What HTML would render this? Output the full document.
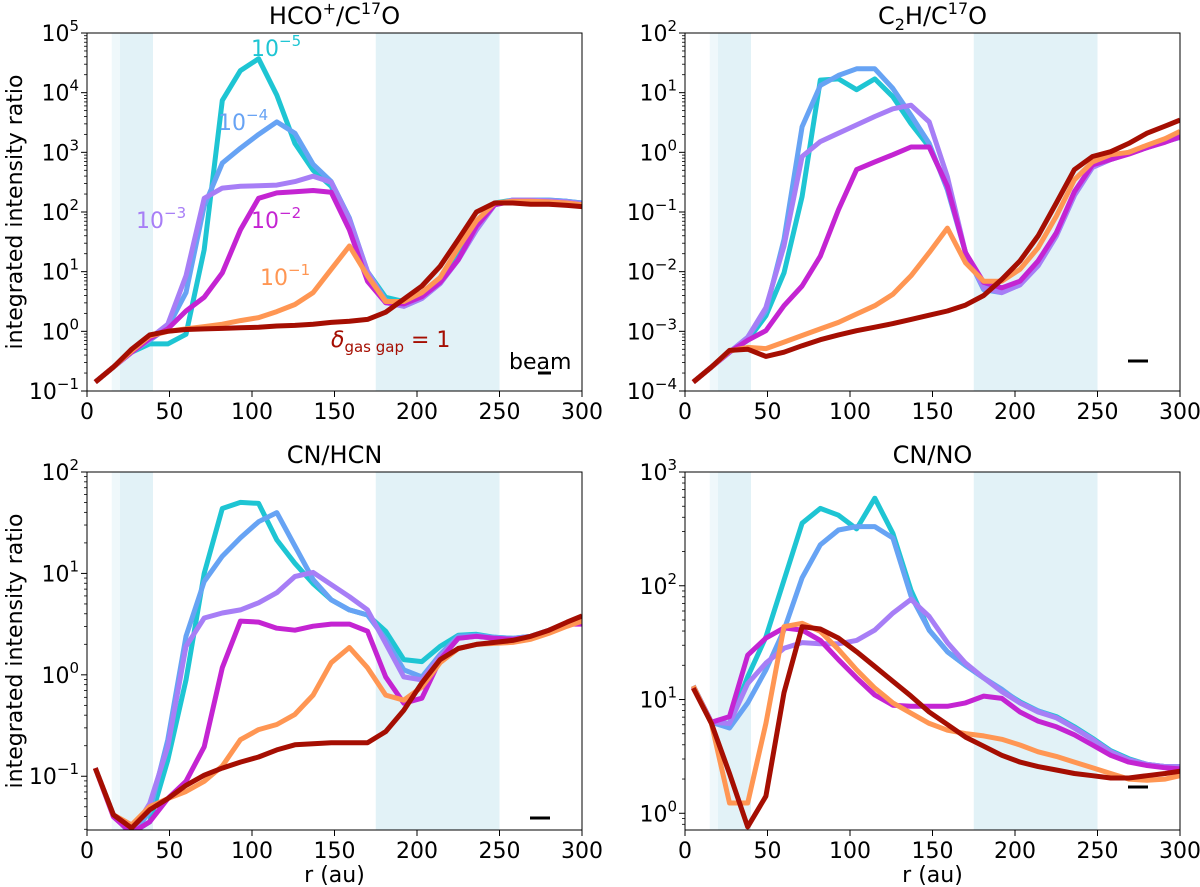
<!DOCTYPE html>
<html><head><meta charset="utf-8"><style>
html,body{margin:0;padding:0;background:#fff;}
svg{display:block;font-family:"DejaVu Sans","Liberation Sans",sans-serif;}
</style></head><body>
<svg id="fig" width="1200" height="887" viewBox="0 0 1200 887" xmlns="http://www.w3.org/2000/svg"></svg>
<script>
const radii = [5,16,27,38,49,60,71,82,93,104,115,126,137,148,159,170,181,192,203,214,225,236,247,258,269,280,291,300];
const seriesNames = ["delta-1e-5","delta-1e-4","delta-1e-3","delta-1e-2","delta-1e-1","delta-1"];
const seriesColors = ["#1ec5d3","#67a3f4","#a77ef6","#c424d2","#ff9653","#a50e02"];
const xTicks = [0,50,100,150,200,250,300];

// log10 values
const hco_cyan = [-0.85,-0.6,-0.35,-0.21,-0.21,-0.05,1.37,3.87,4.37,4.57,3.96,3.15,2.7,2.43,1.82,1.0,0.57,0.5,0.65,0.87,1.3,1.75,2.15,2.2,2.2,2.2,2.18,2.15];
const hco_blue = [-0.85,-0.6,-0.35,-0.15,0.07,0.65,2.1,2.82,3.07,3.3,3.51,3.32,2.8,2.51,1.9,1.0,0.52,0.42,0.55,0.8,1.2,1.7,2.12,2.2,2.2,2.2,2.18,2.15];
const hco_purple = [-0.85,-0.6,-0.35,-0.12,0.12,0.93,2.23,2.4,2.43,2.44,2.45,2.51,2.6,2.5,1.87,1.0,0.48,0.42,0.55,0.8,1.2,1.7,2.12,2.2,2.2,2.19,2.17,2.14];
const hco_magenta = [-0.85,-0.6,-0.35,-0.12,0.04,0.34,0.57,0.98,1.7,2.23,2.32,2.34,2.36,2.33,1.7,0.84,0.48,0.46,0.58,0.82,1.2,1.76,2.12,2.18,2.18,2.17,2.15,2.12];
const hco_orange = [-0.85,-0.6,-0.33,-0.08,0.0,0.04,0.08,0.12,0.18,0.23,0.33,0.45,0.65,1.04,1.43,0.93,0.5,0.5,0.65,0.9,1.4,1.85,2.15,2.18,2.18,2.17,2.15,2.12];
const hco_darkred = [-0.85,-0.6,-0.3,-0.06,0.0,0.03,0.04,0.05,0.06,0.07,0.09,0.1,0.12,0.15,0.17,0.2,0.32,0.54,0.76,1.09,1.54,2.0,2.15,2.15,2.13,2.13,2.11,2.09];

const c2h_cyan = [-3.85,-3.6,-3.35,-3.15,-2.74,-2.02,-0.74,1.21,1.23,1.05,1.23,0.93,0.48,0.09,-0.57,-1.68,-2.27,-2.3,-2.2,-1.85,-1.35,-0.7,-0.23,-0.1,0,0.1,0.2,0.28];
const c2h_blue = [-3.85,-3.6,-3.35,-3.1,-2.66,-1.46,0.43,1.12,1.29,1.4,1.4,1.07,0.62,0.15,-0.63,-1.68,-2.3,-2.35,-2.22,-1.9,-1.4,-0.72,-0.25,-0.12,-0.02,0.08,0.18,0.25];
const c2h_purple = [-3.85,-3.6,-3.35,-3.1,-2.6,-1.57,-0.07,0.18,0.32,0.46,0.6,0.73,0.79,0.51,-0.41,-1.68,-2.27,-2.35,-2.22,-1.9,-1.4,-0.72,-0.25,-0.12,-0.02,0.08,0.18,0.25];
const c2h_magenta = [-3.85,-3.6,-3.35,-3.15,-2.99,-2.57,-2.24,-1.74,-0.96,-0.29,-0.16,-0.04,0.09,0.09,-0.57,-1.68,-2.18,-2.27,-2.16,-1.82,-1.35,-0.66,-0.21,-0.12,-0.03,0.08,0.17,0.26];
const c2h_orange = [-3.85,-3.6,-3.33,-3.27,-3.29,-3.18,-3.07,-2.96,-2.85,-2.71,-2.57,-2.38,-2.07,-1.68,-1.27,-1.85,-2.16,-2.16,-1.96,-1.6,-1.07,-0.46,-0.16,-0.04,0.0,0.12,0.23,0.35];
const c2h_darkred = [-3.85,-3.6,-3.32,-3.3,-3.42,-3.35,-3.24,-3.14,-3.06,-2.99,-2.93,-2.87,-2.8,-2.73,-2.66,-2.56,-2.4,-2.13,-1.82,-1.4,-0.85,-0.29,-0.07,0.01,0.15,0.32,0.44,0.54];

const cnhcn_cyan = [-0.92,-1.38,-1.56,-1.45,-0.84,-0.05,1.0,1.64,1.7,1.69,1.33,1.1,0.9,0.74,0.64,0.59,0.43,0.15,0.13,0.28,0.39,0.4,0.37,0.36,0.38,0.44,0.5,0.55];
const cnhcn_blue = [-0.92,-1.38,-1.58,-1.35,-0.64,0.38,0.92,1.17,1.35,1.51,1.6,1.27,0.94,0.74,0.64,0.59,0.35,0.05,-0.02,0.2,0.38,0.39,0.37,0.36,0.38,0.44,0.5,0.53];
const cnhcn_purple = [-0.92,-1.38,-1.56,-1.27,-0.71,0.28,0.56,0.61,0.64,0.71,0.81,0.97,1.01,0.89,0.77,0.64,0.31,-0.02,-0.05,0.18,0.36,0.38,0.36,0.35,0.38,0.44,0.5,0.52];
const cnhcn_magenta = [-0.92,-1.4,-1.56,-1.45,-1.22,-1.05,-0.71,0.07,0.53,0.52,0.46,0.44,0.48,0.5,0.5,0.43,-0.02,-0.28,-0.23,0.15,0.36,0.38,0.36,0.35,0.37,0.43,0.5,0.5];
const cnhcn_orange = [-0.92,-1.38,-1.48,-1.3,-1.22,-1.15,-1.05,-0.9,-0.64,-0.54,-0.49,-0.39,-0.2,0.12,0.27,0.07,-0.2,-0.25,-0.12,0.12,0.26,0.3,0.31,0.32,0.35,0.41,0.48,0.53];
const cnhcn_darkred = [-0.92,-1.38,-1.51,-1.33,-1.22,-1.09,-0.99,-0.92,-0.86,-0.81,-0.74,-0.69,-0.68,-0.67,-0.67,-0.67,-0.56,-0.35,-0.08,0.15,0.26,0.3,0.32,0.34,0.38,0.44,0.52,0.58];

const cnno_cyan = [1.12,0.8,0.79,1.2,1.55,2.05,2.55,2.68,2.62,2.5,2.77,2.46,1.96,1.61,1.42,1.3,1.19,1.08,0.98,0.9,0.85,0.76,0.66,0.55,0.48,0.43,0.41,0.41];
const cnno_blue = [1.12,0.8,0.75,0.97,1.26,1.61,2.07,2.36,2.49,2.52,2.52,2.42,1.91,1.61,1.42,1.3,1.19,1.09,0.97,0.9,0.84,0.75,0.65,0.54,0.47,0.43,0.41,0.41];
const cnno_purple = [1.12,0.8,0.79,1.14,1.32,1.45,1.5,1.49,1.49,1.52,1.61,1.76,1.88,1.73,1.5,1.32,1.19,1.07,0.97,0.89,0.84,0.75,0.65,0.54,0.47,0.43,0.41,0.41];
const cnno_magenta = [1.11,0.8,0.85,1.39,1.54,1.63,1.61,1.52,1.35,1.19,1.04,0.95,0.94,0.94,0.94,0.97,1.03,1.01,0.89,0.81,0.76,0.69,0.6,0.51,0.45,0.42,0.4,0.39];
const cnno_orange = [1.12,0.79,0.09,0.09,0.79,1.64,1.67,1.6,1.44,1.26,1.1,0.97,0.88,0.79,0.73,0.7,0.68,0.65,0.6,0.54,0.5,0.45,0.4,0.35,0.3,0.29,0.3,0.33];
const cnno_darkred = [1.1,0.79,0.35,-0.12,0.15,1.06,1.64,1.62,1.54,1.42,1.29,1.16,1.03,0.89,0.78,0.67,0.59,0.51,0.45,0.41,0.38,0.35,0.33,0.31,0.31,0.33,0.35,0.37];

const NS = "http://www.w3.org/2000/svg";
const svg = document.getElementById("fig");
function mk(tag, attrs, parent) {
  const e = document.createElementNS(NS, tag);
  for (const k in attrs) e.setAttribute(k, attrs[k]);
  (parent || svg).appendChild(e);
  return e;
}
function span(parent, txt, attrs) {
  const s = document.createElementNS(NS, "tspan");
  for (const k in (attrs || {})) s.setAttribute(k, attrs[k]);
  s.textContent = txt;
  parent.appendChild(s);
  return s;
}
function powLabel(parent, x, y, exp) {
  const t = mk("text", {x: x, y: y, "text-anchor": "end", "font-size": "22", fill: "#000"}, parent);
  
  
  span(t, "10");
  span(t, exp < 0 ? "\u2212" + (-exp) : String(exp), {dy: "-10", "font-size": "15"});
  return t;
}

const panels = [
  {id:"hco-c17o", title:[["HCO",0],["+",1],["/C",0],["17",1],["O",0]], L:87, R:582, T:33, B:391, ymin:-1, ymax:5, data:[hco_cyan,hco_blue,hco_purple,hco_magenta,hco_orange,hco_darkred], ylab:true, xlab:false, beam:[538,551,373]},
  {id:"c2h-c17o", title:[["C",0],["2",-1],["H/C",0],["17",1],["O",0]], L:685, R:1180, T:33, B:391, ymin:-4, ymax:2, data:[c2h_cyan,c2h_blue,c2h_purple,c2h_magenta,c2h_orange,c2h_darkred], ylab:false, xlab:false, beam:[1128,1148,361]},
  {id:"cn-hcn", title:[["CN/HCN",0]], L:87, R:582, T:472, B:830, ymin:-1.53, ymax:2, data:[cnhcn_cyan,cnhcn_blue,cnhcn_purple,cnhcn_magenta,cnhcn_orange,cnhcn_darkred], ylab:true, xlab:true, beam:[530,550,818]},
  {id:"cn-no", title:[["CN/NO",0]], L:685, R:1180, T:472, B:830, ymin:-0.147, ymax:3, data:[cnno_cyan,cnno_blue,cnno_purple,cnno_magenta,cnno_orange,cnno_darkred], ylab:false, xlab:true, beam:[1128,1148,787]}
];

panels.forEach(p => {
  const g = mk("g", {});
  
  
  const xs = v => p.L + (v - 0) / 300 * (p.R - p.L);
  const ys = v => p.B - (v - p.ymin) / (p.ymax - p.ymin) * (p.B - p.T);
  const clipId = "clip-" + p.id;
  const cp = mk("clipPath", {id: clipId}, g);
  mk("rect", {x: p.L, y: p.T, width: p.R - p.L, height: p.B - p.T}, cp);

  const b0 = mk("rect", {x: xs(15), y: p.T, width: xs(20) - xs(15), height: p.B - p.T, fill: "#eff8fb"}, g);
  
  
  const b1 = mk("rect", {x: xs(20), y: p.T, width: xs(40) - xs(20), height: p.B - p.T, fill: "#e2f2f7"}, g);
  
  
  const b2 = mk("rect", {x: xs(175), y: p.T, width: xs(250) - xs(175), height: p.B - p.T, fill: "#e2f2f7"}, g);
  
  

  const lg = mk("g", {"clip-path": "url(#" + clipId + ")"}, g);
  p.data.forEach((arr, si) => {
    const pts = radii.map((r, i) => xs(r).toFixed(1) + "," + ys(arr[i]).toFixed(1)).join(" ");
    const pl = mk("polyline", {points: pts, fill: "none", stroke: seriesColors[si], "stroke-width": "5", "stroke-linejoin": "round"}, lg);
    
    
  });

  const fr = mk("rect", {x: p.L, y: p.T, width: p.R - p.L, height: p.B - p.T, fill: "none", stroke: "#000", "stroke-width": "1"}, g);
  
  

  for (let d = Math.floor(p.ymin); d <= Math.ceil(p.ymax); d++) {
    if (d >= p.ymin - 1e-9 && d <= p.ymax + 1e-9) {
      const y = ys(d);
      mk("line", {x1: p.L - 6, x2: p.L, y1: y, y2: y, stroke: "#000", "stroke-width": "1"}, g);
      powLabel(g, p.L - 8, y + 8, d);
    }
    for (let m = 2; m <= 9; m++) {
      const v = d + Math.log10(m);
      if (v > p.ymin && v < p.ymax) {
        const y = ys(v);
        mk("line", {x1: p.L - 3, x2: p.L, y1: y, y2: y, stroke: "#000", "stroke-width": "0.8"}, g);
      }
    }
  }
  xTicks.forEach(t => {
    const x = xs(t);
    mk("line", {x1: x, x2: x, y1: p.B, y2: p.B + 6, stroke: "#000", "stroke-width": "1"}, g);
    const tl = mk("text", {x: x, y: p.B + 28, "text-anchor": "middle", "font-size": "22"}, g);
    
    
    tl.textContent = t;
  });
  const ti = mk("text", {x: (p.L + p.R) / 2, y: p.T - 9, "text-anchor": "middle", "font-size": "24"}, g);
  
  
  let shift = 0;
  p.title.forEach(part => {
    const want = part[1] === 1 ? -10 : (part[1] === -1 ? 6 : 0);
    const attrs = {dy: String(want - shift)};
    if (part[1] !== 0) attrs["font-size"] = "16";
    span(ti, part[0], attrs);
    shift = want;
  });
  if (p.ylab) {
    const yl = mk("text", {x: 0, y: 0, "text-anchor": "middle", "font-size": "22", transform: "translate(22," + ((p.T + p.B) / 2) + ") rotate(-90)"}, g);
    
    
    yl.textContent = "integrated intensity ratio";
  }
  if (p.xlab) {
    const xl = mk("text", {x: (p.L + p.R) / 2, y: 882, "text-anchor": "middle", "font-size": "22"}, g);
    
    
    xl.textContent = "r (au)";
  }
  const bm = mk("line", {x1: p.beam[0], x2: p.beam[1], y1: p.beam[2], y2: p.beam[2], stroke: "#000", "stroke-width": "3"}, g);
  
  
});

const ann = [
  ["label-1e-5", 251, 56, "#1ec5d3", "\u22125"],
  ["label-1e-4", 218, 130, "#67a3f4", "\u22124"],
  ["label-1e-3", 136, 228, "#a77ef6", "\u22123"],
  ["label-1e-2", 251, 228, "#c424d2", "\u22122"],
  ["label-1e-1", 260, 285, "#ff9653", "\u22121"]
];
ann.forEach(a => {
  const t = mk("text", {x: a[1], y: a[2], "font-size": "22", fill: a[3]});
  
  
  span(t, "10");
  span(t, a[4], {dy: "-10", "font-size": "15"});
});
const dl = mk("text", {x: 331, y: 347, "font-size": "22", fill: "#a50e02"});


span(dl, "\u03B4", {"font-style": "italic"});
span(dl, "gas gap", {dy: "5", "font-size": "15"});
span(dl, " = 1", {dy: "-5"});
const bl = mk("text", {x: 509, y: 369, "font-size": "22", fill: "#000"});


bl.textContent = "beam";
</script>
</body></html>
